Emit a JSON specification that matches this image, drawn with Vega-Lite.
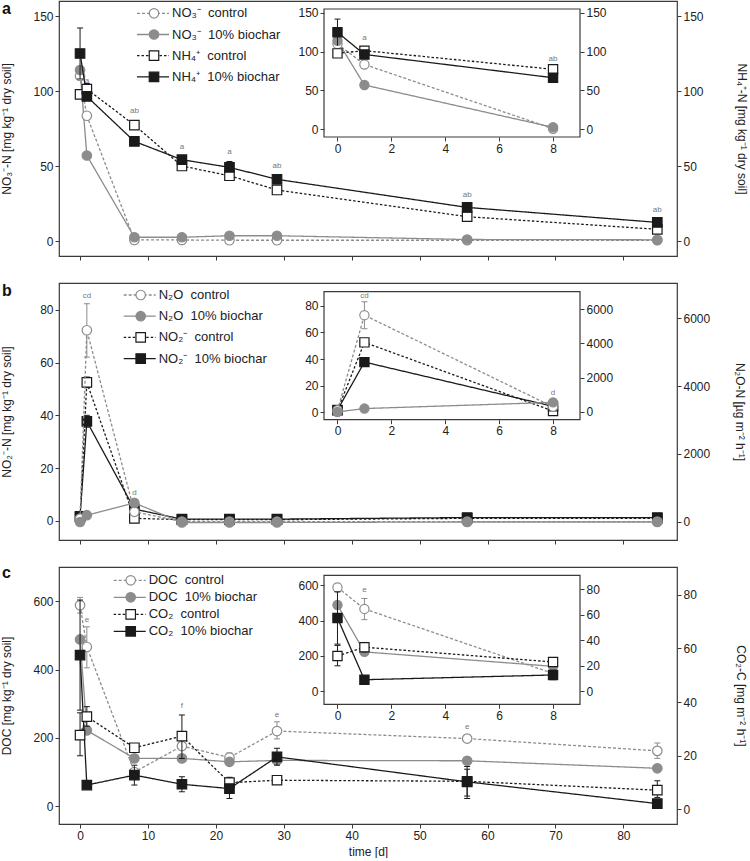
{
"$schema":"https://vega.github.io/schema/vega-lite/v6.json",
"background":"white",
"padding":{"left":0,"top":0,"right":0,"bottom":0},
"spacing":27,
"bounds":"flush",
"config":{"font":"Liberation Sans","view":{"stroke":"#3a3a3a","strokeWidth":1.2},
"legend":{"labelFont":"Liberation Sans"},
"axis":{"grid":false,"domain":false,"tickColor":"#3a3a3a","tickSize":4,"tickWidth":1,"labelFont":"Liberation Sans","labelFontSize":12,"labelColor":"#222","labelPadding":2,"titleFont":"Liberation Sans","titleFontSize":12,"titleFontWeight":"normal","titleColor":"#222"}},
"resolve":{"scale":{"stroke":"independent","strokeDash":"independent","shape":"independent","fill":"independent","color":"independent"},"legend":{"stroke":"independent","strokeDash":"independent","shape":"independent","fill":"independent","color":"independent"}},
"datasets":{
"a_pts":[
{"s":"NO₃⁻\u00a0 control","t":0,"v":110},{"s":"NO₃⁻\u00a0 control","t":1,"v":83.5},{"s":"NO₃⁻\u00a0 control","t":8,"v":0.7},{"s":"NO₃⁻\u00a0 control","t":15,"v":0.7},{"s":"NO₃⁻\u00a0 control","t":22,"v":0.5},{"s":"NO₃⁻\u00a0 control","t":29,"v":0.5},{"s":"NO₃⁻\u00a0 control","t":57,"v":0.5},{"s":"NO₃⁻\u00a0 control","t":85,"v":0.5},
{"s":"NO₃⁻\u00a0 10% biochar","t":0,"v":114},{"s":"NO₃⁻\u00a0 10% biochar","t":1,"v":57},{"s":"NO₃⁻\u00a0 10% biochar","t":8,"v":2.5},{"s":"NO₃⁻\u00a0 10% biochar","t":15,"v":2.5},{"s":"NO₃⁻\u00a0 10% biochar","t":22,"v":3.5},{"s":"NO₃⁻\u00a0 10% biochar","t":29,"v":3.5},{"s":"NO₃⁻\u00a0 10% biochar","t":57,"v":1.0},{"s":"NO₃⁻\u00a0 10% biochar","t":85,"v":0.8},
{"s":"NH₄⁺\u00a0 control","t":0,"v":97.8},{"s":"NH₄⁺\u00a0 control","t":1,"v":101.3},{"s":"NH₄⁺\u00a0 control","t":8,"v":77.3},{"s":"NH₄⁺\u00a0 control","t":15,"v":50},{"s":"NH₄⁺\u00a0 control","t":22,"v":43.5},{"s":"NH₄⁺\u00a0 control","t":29,"v":34},{"s":"NH₄⁺\u00a0 control","t":57,"v":16.2},{"s":"NH₄⁺\u00a0 control","t":85,"v":7.8},
{"s":"NH₄⁺\u00a0 10% biochar","t":0,"v":125},{"s":"NH₄⁺\u00a0 10% biochar","t":1,"v":96.4},{"s":"NH₄⁺\u00a0 10% biochar","t":8,"v":66.4},{"s":"NH₄⁺\u00a0 10% biochar","t":15,"v":54.2},{"s":"NH₄⁺\u00a0 10% biochar","t":22,"v":49.1},{"s":"NH₄⁺\u00a0 10% biochar","t":29,"v":41.1},{"s":"NH₄⁺\u00a0 10% biochar","t":57,"v":22.4},{"s":"NH₄⁺\u00a0 10% biochar","t":85,"v":12.4}],
"a_err":[{"s":"NH₄⁺\u00a0 10% biochar","t":0,"lo":108,"hi":142},{"s":"NH₄⁺\u00a0 10% biochar","t":22,"lo":45,"hi":53},{"s":"NH₄⁺\u00a0 control","t":1,"lo":97,"hi":105}],
"a_lab":[{"t":1,"v":107,"lab":"a"},{"t":8,"v":87,"lab":"ab"},{"t":15,"v":63,"lab":"a"},{"t":22,"v":59.5,"lab":"a"},{"t":29,"v":50,"lab":"ab"},{"t":57,"v":31,"lab":"ab"},{"t":85,"v":21,"lab":"ab"}],
"a_ilab":[{"t":1,"v":117.7,"lab":"a"},{"t":8,"v":90.6,"lab":"ab"}],
"b_pts":[
{"s":"N₂O\u00a0 control","t":0,"v":100},{"s":"N₂O\u00a0 control","t":1,"v":5640},{"s":"N₂O\u00a0 control","t":8,"v":300},{"s":"N₂O\u00a0 control","t":15,"v":10},{"s":"N₂O\u00a0 control","t":22,"v":10},{"s":"N₂O\u00a0 control","t":29,"v":10},{"s":"N₂O\u00a0 control","t":57,"v":10},{"s":"N₂O\u00a0 control","t":85,"v":10},
{"s":"N₂O\u00a0 10% biochar","t":0,"v":0},{"s":"N₂O\u00a0 10% biochar","t":1,"v":200},{"s":"N₂O\u00a0 10% biochar","t":8,"v":560},{"s":"N₂O\u00a0 10% biochar","t":15,"v":-15},{"s":"N₂O\u00a0 10% biochar","t":22,"v":-15},{"s":"N₂O\u00a0 10% biochar","t":29,"v":-15},{"s":"N₂O\u00a0 10% biochar","t":57,"v":0},{"s":"N₂O\u00a0 10% biochar","t":85,"v":0},
{"s":"NO₂⁻\u00a0 control","t":0,"v":1.5},{"s":"NO₂⁻\u00a0 control","t":1,"v":52.5},{"s":"NO₂⁻\u00a0 control","t":8,"v":1.0},{"s":"NO₂⁻\u00a0 control","t":15,"v":0.5},{"s":"NO₂⁻\u00a0 control","t":22,"v":0.5},{"s":"NO₂⁻\u00a0 control","t":29,"v":0.5},{"s":"NO₂⁻\u00a0 control","t":57,"v":1.0},{"s":"NO₂⁻\u00a0 control","t":85,"v":1.0},
{"s":"NO₂⁻\u00a0 10% biochar","t":0,"v":1.8},{"s":"NO₂⁻\u00a0 10% biochar","t":1,"v":37.7},{"s":"NO₂⁻\u00a0 10% biochar","t":8,"v":4.5},{"s":"NO₂⁻\u00a0 10% biochar","t":15,"v":0.7},{"s":"NO₂⁻\u00a0 10% biochar","t":22,"v":0.7},{"s":"NO₂⁻\u00a0 10% biochar","t":29,"v":0.7},{"s":"NO₂⁻\u00a0 10% biochar","t":57,"v":1.3},{"s":"NO₂⁻\u00a0 10% biochar","t":85,"v":1.3}],
"b_err":[{"s":"N₂O\u00a0 control","t":1,"lo":4850,"hi":6420},{"s":"NO₂⁻\u00a0 control","t":1,"lo":50.5,"hi":54.5},{"s":"NO₂⁻\u00a0 10% biochar","t":1,"lo":35.5,"hi":40}],
"b_lab":[{"t":1,"v":85.3,"lab":"cd"},{"t":8,"v":10.6,"lab":"d"}],
"b_ilab":[{"t":1,"v":87,"lab":"cd"},{"t":8,"v":14.5,"lab":"d"}],
"c_pts":[
{"s":"DOC\u00a0 control","t":0,"v":588},{"s":"DOC\u00a0 control","t":1,"v":466},{"s":"DOC\u00a0 control","t":8,"v":100},{"s":"DOC\u00a0 control","t":15,"v":176},{"s":"DOC\u00a0 control","t":22,"v":142.5},{"s":"DOC\u00a0 control","t":29,"v":220},{"s":"DOC\u00a0 control","t":57,"v":198},{"s":"DOC\u00a0 control","t":85,"v":162},
{"s":"DOC\u00a0 10% biochar","t":0,"v":488},{"s":"DOC\u00a0 10% biochar","t":1,"v":222},{"s":"DOC\u00a0 10% biochar","t":8,"v":140},{"s":"DOC\u00a0 10% biochar","t":15,"v":140},{"s":"DOC\u00a0 10% biochar","t":22,"v":130},{"s":"DOC\u00a0 10% biochar","t":29,"v":134},{"s":"DOC\u00a0 10% biochar","t":57,"v":133},{"s":"DOC\u00a0 10% biochar","t":85,"v":111},
{"s":"CO₂\u00a0 control","t":0,"v":27.7},{"s":"CO₂\u00a0 control","t":1,"v":34.6},{"s":"CO₂\u00a0 control","t":8,"v":23},{"s":"CO₂\u00a0 control","t":15,"v":27.3},{"s":"CO₂\u00a0 control","t":22,"v":10},{"s":"CO₂\u00a0 control","t":29,"v":10.9},{"s":"CO₂\u00a0 control","t":57,"v":10.5},{"s":"CO₂\u00a0 control","t":85,"v":7.2},
{"s":"CO₂\u00a0 10% biochar","t":0,"v":57.5},{"s":"CO₂\u00a0 10% biochar","t":1,"v":9.1},{"s":"CO₂\u00a0 10% biochar","t":8,"v":12.8},{"s":"CO₂\u00a0 10% biochar","t":15,"v":9.4},{"s":"CO₂\u00a0 10% biochar","t":22,"v":7.8},{"s":"CO₂\u00a0 10% biochar","t":29,"v":19.6},{"s":"CO₂\u00a0 10% biochar","t":57,"v":10.3},{"s":"CO₂\u00a0 10% biochar","t":85,"v":2.2}],
"c_err":[{"s":"DOC\u00a0 control","t":0,"lo":565,"hi":611},{"s":"DOC\u00a0 control","t":1,"lo":405,"hi":525},{"s":"DOC\u00a0 control","t":22,"lo":129,"hi":156},{"s":"DOC\u00a0 control","t":29,"lo":197,"hi":247},{"s":"DOC\u00a0 control","t":85,"lo":140,"hi":185},
{"s":"CO₂\u00a0 control","t":0,"lo":20,"hi":36},{"s":"CO₂\u00a0 control","t":1,"lo":31,"hi":38.3},{"s":"CO₂\u00a0 control","t":15,"lo":19,"hi":35.2},{"s":"CO₂\u00a0 control","t":22,"lo":8,"hi":12},{"s":"CO₂\u00a0 control","t":57,"lo":5,"hi":15},{"s":"CO₂\u00a0 control","t":85,"lo":4.5,"hi":10.7},
{"s":"CO₂\u00a0 10% biochar","t":0,"lo":37,"hi":78},{"s":"CO₂\u00a0 10% biochar","t":8,"lo":9.1,"hi":16.5},{"s":"CO₂\u00a0 10% biochar","t":15,"lo":6.6,"hi":12.2},{"s":"CO₂\u00a0 10% biochar","t":22,"lo":4.1,"hi":11.6},{"s":"CO₂\u00a0 10% biochar","t":29,"lo":16.5,"hi":22.8},{"s":"CO₂\u00a0 10% biochar","t":57,"lo":4.1,"hi":16},{"s":"CO₂\u00a0 10% biochar","t":85,"lo":1,"hi":3.5}],
"c_lab":[{"t":1,"v":546,"lab":"e"},{"t":15,"v":293,"lab":"f"},{"t":29,"v":266,"lab":"e"},{"t":57,"v":232,"lab":"e"}],
"c_ilab":[{"t":1,"v":576,"lab":"e"}]
},
"vconcat":[
{"width":618,"height":255,"resolve":{"scale":{"x":"independent","y":"independent"}},
"layer":[
{"layer":[
{"data":{"name":"a_pts"},"transform":[{"filter":"indexof(datum.s,'NO₃')>=0"}],"mark":{"type":"line","strokeWidth":1.3},
"encoding":{"x":{"field":"t","type":"quantitative","scale":{"domain":[-3.1,87.9],"nice":false,"zero":false},"axis":{"orient":"bottom","values":[0,10,20,30,40,50,60,70,80],"labels":false,"title":null}},
"y":{"field":"v","type":"quantitative","scale":{"domain":[-10,160],"nice":false,"zero":false},"axis":{"orient":"left","values":[0,50,100,150],"title":"NO₃⁻-N [mg kg⁻¹ dry soil]","titlePadding":19}},
"stroke":{"field":"s","type":"nominal","scale":{"domain":["NO₃⁻\u00a0 control","NO₃⁻\u00a0 10% biochar","NH₄⁺\u00a0 control","NH₄⁺\u00a0 10% biochar"],"range":["#8c8c8c","#8c8c8c","#1a1a1a","#1a1a1a"]},"legend":{"orient":"none","legendX":77,"legendY":5.8,"title":null,"values":["NO₃⁻\u00a0 control","NO₃⁻\u00a0 10% biochar","NH₄⁺\u00a0 control","NH₄⁺\u00a0 10% biochar"],"symbolType":"stroke","symbolSize":1024,"symbolStrokeWidth":1.3,"labelFontSize":13,"labelColor":"#222","labelOffset":2,"rowPadding":7.2,"padding":0,"clipHeight":13}},
"strokeDash":{"field":"s","type":"nominal","scale":{"domain":["NO₃⁻\u00a0 control","NO₃⁻\u00a0 10% biochar","NH₄⁺\u00a0 control","NH₄⁺\u00a0 10% biochar"],"range":[[3,2],[1,0],[2.5,2],[1,0]]},"legend":{"orient":"none","legendX":77,"legendY":5.8,"title":null,"values":["NO₃⁻\u00a0 control","NO₃⁻\u00a0 10% biochar","NH₄⁺\u00a0 control","NH₄⁺\u00a0 10% biochar"],"symbolType":"stroke","symbolSize":1024,"symbolStrokeWidth":1.3,"labelFontSize":13,"labelColor":"#222","labelOffset":2,"rowPadding":7.2,"padding":0,"clipHeight":13}}}},
{"data":{"name":"a_pts"},"transform":[{"filter":"indexof(datum.s,'NO₃')>=0"}],"mark":{"type":"point","filled":false,"size":90,"strokeWidth":1.2,"opacity":1},
"encoding":{"x":{"field":"t","type":"quantitative","scale":{"domain":[-3.1,87.9],"nice":false,"zero":false},"axis":{"orient":"bottom","values":[0,10,20,30,40,50,60,70,80],"labels":false,"title":null}},
"y":{"field":"v","type":"quantitative","scale":{"domain":[-10,160],"nice":false,"zero":false},"axis":{"orient":"left","values":[0,50,100,150],"title":"NO₃⁻-N [mg kg⁻¹ dry soil]","titlePadding":19}},
"color":{"field":"s","type":"nominal","scale":{"domain":["NH₄⁺\u00a0 10% biochar","NH₄⁺\u00a0 control","NO₃⁻\u00a0 10% biochar","NO₃⁻\u00a0 control"],"range":["#1a1a1a","#1a1a1a","#8c8c8c","#8c8c8c"]},"legend":{"orient":"none","legendX":88.5,"legendY":5.8,"title":null,"values":["NO₃⁻\u00a0 control","NO₃⁻\u00a0 10% biochar","NH₄⁺\u00a0 control","NH₄⁺\u00a0 10% biochar"],"symbolSize":90,"symbolStrokeWidth":1.2,"labelFontSize":13,"labelExpr":"''","labelOffset":2,"rowPadding":7.2,"padding":0,"clipHeight":13}},
"fill":{"field":"s","type":"nominal","scale":{"domain":["NH₄⁺\u00a0 10% biochar","NH₄⁺\u00a0 control","NO₃⁻\u00a0 10% biochar","NO₃⁻\u00a0 control"],"range":["#1a1a1a","#ffffff","#8c8c8c","#ffffff"]},"legend":{"orient":"none","legendX":88.5,"legendY":5.8,"title":null,"values":["NO₃⁻\u00a0 control","NO₃⁻\u00a0 10% biochar","NH₄⁺\u00a0 control","NH₄⁺\u00a0 10% biochar"],"symbolSize":90,"symbolStrokeWidth":1.2,"labelFontSize":13,"labelExpr":"''","labelOffset":2,"rowPadding":7.2,"padding":0,"clipHeight":13}},
"shape":{"field":"s","type":"nominal","scale":{"domain":["NH₄⁺\u00a0 10% biochar","NH₄⁺\u00a0 control","NO₃⁻\u00a0 10% biochar","NO₃⁻\u00a0 control"],"range":["square","square","circle","circle"]},"legend":{"orient":"none","legendX":88.5,"legendY":5.8,"title":null,"values":["NO₃⁻\u00a0 control","NO₃⁻\u00a0 10% biochar","NH₄⁺\u00a0 control","NH₄⁺\u00a0 10% biochar"],"symbolSize":90,"symbolStrokeWidth":1.2,"labelFontSize":13,"labelExpr":"''","labelOffset":2,"rowPadding":7.2,"padding":0,"clipHeight":13}}}},
{"data":{"name":"a_lab"},"mark":{"type":"text","fontSize":8,"color":"#777"},
"encoding":{"x":{"field":"t","type":"quantitative","scale":{"domain":[-3.1,87.9],"nice":false,"zero":false},"axis":{"orient":"bottom","values":[0,10,20,30,40,50,60,70,80],"labels":false,"title":null}},
"y":{"field":"v","type":"quantitative","scale":{"domain":[-10,160],"nice":false,"zero":false},"axis":{"orient":"left","values":[0,50,100,150],"title":"NO₃⁻-N [mg kg⁻¹ dry soil]","titlePadding":19}},"text":{"field":"lab"}}},
{"data":{"values":[{}]},"mark":{"type":"text","fontSize":16,"fontWeight":"bold","color":"#111","align":"left","baseline":"alphabetic"},
"encoding":{"x":{"datum":-11.5,"type":"quantitative","scale":{"domain":[-3.1,87.9],"nice":false,"zero":false},"axis":{"orient":"bottom","values":[0,10,20,30,40,50,60,70,80],"labels":false,"title":null}},
"y":{"datum":151.3,"type":"quantitative","scale":{"domain":[-10,160],"nice":false,"zero":false},"axis":{"orient":"left","values":[0,50,100,150],"title":"NO₃⁻-N [mg kg⁻¹ dry soil]","titlePadding":19}},"text":{"value":"a"}}}
]},
{"layer":[
{"data":{"name":"a_pts"},"transform":[{"filter":"indexof(datum.s,'NH₄')>=0"}],"mark":{"type":"line","strokeWidth":1.3},
"encoding":{"x":{"field":"t","type":"quantitative","scale":{"domain":[-3.1,87.9],"nice":false,"zero":false},"axis":null},
"y":{"field":"v","type":"quantitative","scale":{"domain":[-10,160],"nice":false,"zero":false},"axis":{"orient":"right","values":[0,50,100,150],"title":"NH₄⁺-N [mg kg⁻¹ dry soil]","titlePadding":31}},
"stroke":{"field":"s","type":"nominal","scale":{"domain":["NO₃⁻\u00a0 control","NO₃⁻\u00a0 10% biochar","NH₄⁺\u00a0 control","NH₄⁺\u00a0 10% biochar"],"range":["#8c8c8c","#8c8c8c","#1a1a1a","#1a1a1a"]},"legend":null},
"strokeDash":{"field":"s","type":"nominal","scale":{"domain":["NO₃⁻\u00a0 control","NO₃⁻\u00a0 10% biochar","NH₄⁺\u00a0 control","NH₄⁺\u00a0 10% biochar"],"range":[[3,2],[1,0],[2.5,2],[1,0]]},"legend":null}}},
{"data":{"name":"a_err"},"transform":[{"filter":"indexof(datum.s,'NH₄')>=0"}],"mark":{"type":"rule","strokeWidth":1},
"encoding":{"x":{"field":"t","type":"quantitative","scale":{"domain":[-3.1,87.9],"nice":false,"zero":false},"axis":null},
"y":{"field":"lo","type":"quantitative","scale":{"domain":[-10,160],"nice":false,"zero":false},"axis":{"orient":"right","values":[0,50,100,150],"title":"NH₄⁺-N [mg kg⁻¹ dry soil]","titlePadding":31}},"y2":{"field":"hi"},
"stroke":{"field":"s","type":"nominal","scale":{"domain":["NO₃⁻\u00a0 control","NO₃⁻\u00a0 10% biochar","NH₄⁺\u00a0 control","NH₄⁺\u00a0 10% biochar"],"range":["#8c8c8c","#8c8c8c","#1a1a1a","#1a1a1a"]},"legend":null}}},
{"data":{"name":"a_err"},"transform":[{"filter":"indexof(datum.s,'NH₄')>=0"}],"mark":{"type":"point","shape":"stroke","size":36,"strokeWidth":1,"opacity":1},
"encoding":{"x":{"field":"t","type":"quantitative","scale":{"domain":[-3.1,87.9],"nice":false,"zero":false},"axis":null},
"y":{"field":"hi","type":"quantitative","scale":{"domain":[-10,160],"nice":false,"zero":false},"axis":{"orient":"right","values":[0,50,100,150],"title":"NH₄⁺-N [mg kg⁻¹ dry soil]","titlePadding":31}},
"stroke":{"field":"s","type":"nominal","scale":{"domain":["NO₃⁻\u00a0 control","NO₃⁻\u00a0 10% biochar","NH₄⁺\u00a0 control","NH₄⁺\u00a0 10% biochar"],"range":["#8c8c8c","#8c8c8c","#1a1a1a","#1a1a1a"]},"legend":null}}},
{"data":{"name":"a_err"},"transform":[{"filter":"indexof(datum.s,'NH₄')>=0"}],"mark":{"type":"point","shape":"stroke","size":36,"strokeWidth":1,"opacity":1},
"encoding":{"x":{"field":"t","type":"quantitative","scale":{"domain":[-3.1,87.9],"nice":false,"zero":false},"axis":null},
"y":{"field":"lo","type":"quantitative","scale":{"domain":[-10,160],"nice":false,"zero":false},"axis":{"orient":"right","values":[0,50,100,150],"title":"NH₄⁺-N [mg kg⁻¹ dry soil]","titlePadding":31}},
"stroke":{"field":"s","type":"nominal","scale":{"domain":["NO₃⁻\u00a0 control","NO₃⁻\u00a0 10% biochar","NH₄⁺\u00a0 control","NH₄⁺\u00a0 10% biochar"],"range":["#8c8c8c","#8c8c8c","#1a1a1a","#1a1a1a"]},"legend":null}}},
{"data":{"name":"a_pts"},"transform":[{"filter":"indexof(datum.s,'NH₄')>=0"}],"mark":{"type":"point","filled":false,"size":90,"strokeWidth":1.2,"opacity":1},
"encoding":{"x":{"field":"t","type":"quantitative","scale":{"domain":[-3.1,87.9],"nice":false,"zero":false},"axis":null},
"y":{"field":"v","type":"quantitative","scale":{"domain":[-10,160],"nice":false,"zero":false},"axis":{"orient":"right","values":[0,50,100,150],"title":"NH₄⁺-N [mg kg⁻¹ dry soil]","titlePadding":31}},
"color":{"field":"s","type":"nominal","scale":{"domain":["NH₄⁺\u00a0 10% biochar","NH₄⁺\u00a0 control","NO₃⁻\u00a0 10% biochar","NO₃⁻\u00a0 control"],"range":["#1a1a1a","#1a1a1a","#8c8c8c","#8c8c8c"]},"legend":null},
"fill":{"field":"s","type":"nominal","scale":{"domain":["NH₄⁺\u00a0 10% biochar","NH₄⁺\u00a0 control","NO₃⁻\u00a0 10% biochar","NO₃⁻\u00a0 control"],"range":["#1a1a1a","#ffffff","#8c8c8c","#ffffff"]},"legend":null},
"shape":{"field":"s","type":"nominal","scale":{"domain":["NH₄⁺\u00a0 10% biochar","NH₄⁺\u00a0 control","NO₃⁻\u00a0 10% biochar","NO₃⁻\u00a0 control"],"range":["square","square","circle","circle"]},"legend":null}}}
]},
{"layer":[
{"data":{"values":[{}]},"mark":{"type":"rect","filled":false,"color":"#3a3a3a","strokeWidth":1.2},
"encoding":{"x":{"datum":-0.5,"type":"quantitative","scale":{"domain":[-0.5,9],"range":[265,521],"nice":false,"zero":false},"axis":{"orient":"bottom","offset":-119,"values":[0,2,4,6,8],"title":null}},"x2":{"datum":9},
"y":{"datum":-10,"type":"quantitative","scale":{"domain":[-10,155],"range":[136,8],"nice":false,"zero":false},"axis":{"orient":"left","offset":-265,"values":[0,50,100,150],"title":null}},"y2":{"datum":155}}},
{"data":{"name":"a_pts"},"transform":[{"filter":"indexof(datum.s,'NO₃')>=0 && datum.t<=8"}],"mark":{"type":"line","strokeWidth":1.3},
"encoding":{"x":{"field":"t","type":"quantitative","scale":{"domain":[-0.5,9],"range":[265,521],"nice":false,"zero":false},"axis":{"orient":"bottom","offset":-119,"values":[0,2,4,6,8],"title":null}},
"y":{"field":"v","type":"quantitative","scale":{"domain":[-10,155],"range":[136,8],"nice":false,"zero":false},"axis":{"orient":"left","offset":-265,"values":[0,50,100,150],"title":null}},
"stroke":{"field":"s","type":"nominal","scale":{"domain":["NO₃⁻\u00a0 control","NO₃⁻\u00a0 10% biochar","NH₄⁺\u00a0 control","NH₄⁺\u00a0 10% biochar"],"range":["#8c8c8c","#8c8c8c","#1a1a1a","#1a1a1a"]},"legend":null},
"strokeDash":{"field":"s","type":"nominal","scale":{"domain":["NO₃⁻\u00a0 control","NO₃⁻\u00a0 10% biochar","NH₄⁺\u00a0 control","NH₄⁺\u00a0 10% biochar"],"range":[[3,2],[1,0],[2.5,2],[1,0]]},"legend":null}}},
{"data":{"name":"a_pts"},"transform":[{"filter":"indexof(datum.s,'NO₃')>=0 && datum.t<=8"}],"mark":{"type":"point","filled":false,"size":85,"strokeWidth":1.2,"opacity":1},
"encoding":{"x":{"field":"t","type":"quantitative","scale":{"domain":[-0.5,9],"range":[265,521],"nice":false,"zero":false},"axis":{"orient":"bottom","offset":-119,"values":[0,2,4,6,8],"title":null}},
"y":{"field":"v","type":"quantitative","scale":{"domain":[-10,155],"range":[136,8],"nice":false,"zero":false},"axis":{"orient":"left","offset":-265,"values":[0,50,100,150],"title":null}},
"color":{"field":"s","type":"nominal","scale":{"domain":["NH₄⁺\u00a0 10% biochar","NH₄⁺\u00a0 control","NO₃⁻\u00a0 10% biochar","NO₃⁻\u00a0 control"],"range":["#1a1a1a","#1a1a1a","#8c8c8c","#8c8c8c"]},"legend":null},
"fill":{"field":"s","type":"nominal","scale":{"domain":["NH₄⁺\u00a0 10% biochar","NH₄⁺\u00a0 control","NO₃⁻\u00a0 10% biochar","NO₃⁻\u00a0 control"],"range":["#1a1a1a","#ffffff","#8c8c8c","#ffffff"]},"legend":null},
"shape":{"field":"s","type":"nominal","scale":{"domain":["NH₄⁺\u00a0 10% biochar","NH₄⁺\u00a0 control","NO₃⁻\u00a0 10% biochar","NO₃⁻\u00a0 control"],"range":["square","square","circle","circle"]},"legend":null}}},
{"data":{"name":"a_ilab"},"mark":{"type":"text","fontSize":8,"color":"#777"},
"encoding":{"x":{"field":"t","type":"quantitative","scale":{"domain":[-0.5,9],"range":[265,521],"nice":false,"zero":false},"axis":{"orient":"bottom","offset":-119,"values":[0,2,4,6,8],"title":null}},
"y":{"field":"v","type":"quantitative","scale":{"domain":[-10,155],"range":[136,8],"nice":false,"zero":false},"axis":{"orient":"left","offset":-265,"values":[0,50,100,150],"title":null}},"text":{"field":"lab"}}}
]},
{"layer":[
{"data":{"name":"a_pts"},"transform":[{"filter":"indexof(datum.s,'NH₄')>=0 && datum.t<=8"}],"mark":{"type":"line","strokeWidth":1.3},
"encoding":{"x":{"field":"t","type":"quantitative","scale":{"domain":[-0.5,9],"range":[265,521],"nice":false,"zero":false},"axis":null},
"y":{"field":"v","type":"quantitative","scale":{"domain":[-10,155],"range":[136,8],"nice":false,"zero":false},"axis":{"orient":"right","offset":-97,"values":[0,50,100,150],"title":null}},
"stroke":{"field":"s","type":"nominal","scale":{"domain":["NO₃⁻\u00a0 control","NO₃⁻\u00a0 10% biochar","NH₄⁺\u00a0 control","NH₄⁺\u00a0 10% biochar"],"range":["#8c8c8c","#8c8c8c","#1a1a1a","#1a1a1a"]},"legend":null},
"strokeDash":{"field":"s","type":"nominal","scale":{"domain":["NO₃⁻\u00a0 control","NO₃⁻\u00a0 10% biochar","NH₄⁺\u00a0 control","NH₄⁺\u00a0 10% biochar"],"range":[[3,2],[1,0],[2.5,2],[1,0]]},"legend":null}}},
{"data":{"name":"a_err"},"transform":[{"filter":"indexof(datum.s,'NH₄')>=0 && datum.t<=8"}],"mark":{"type":"rule","strokeWidth":1},
"encoding":{"x":{"field":"t","type":"quantitative","scale":{"domain":[-0.5,9],"range":[265,521],"nice":false,"zero":false},"axis":null},
"y":{"field":"lo","type":"quantitative","scale":{"domain":[-10,155],"range":[136,8],"nice":false,"zero":false},"axis":{"orient":"right","offset":-97,"values":[0,50,100,150],"title":null}},"y2":{"field":"hi"},
"stroke":{"field":"s","type":"nominal","scale":{"domain":["NO₃⁻\u00a0 control","NO₃⁻\u00a0 10% biochar","NH₄⁺\u00a0 control","NH₄⁺\u00a0 10% biochar"],"range":["#8c8c8c","#8c8c8c","#1a1a1a","#1a1a1a"]},"legend":null}}},
{"data":{"name":"a_err"},"transform":[{"filter":"indexof(datum.s,'NH₄')>=0 && datum.t<=8"}],"mark":{"type":"point","shape":"stroke","size":36,"strokeWidth":1,"opacity":1},
"encoding":{"x":{"field":"t","type":"quantitative","scale":{"domain":[-0.5,9],"range":[265,521],"nice":false,"zero":false},"axis":null},
"y":{"field":"hi","type":"quantitative","scale":{"domain":[-10,155],"range":[136,8],"nice":false,"zero":false},"axis":{"orient":"right","offset":-97,"values":[0,50,100,150],"title":null}},
"stroke":{"field":"s","type":"nominal","scale":{"domain":["NO₃⁻\u00a0 control","NO₃⁻\u00a0 10% biochar","NH₄⁺\u00a0 control","NH₄⁺\u00a0 10% biochar"],"range":["#8c8c8c","#8c8c8c","#1a1a1a","#1a1a1a"]},"legend":null}}},
{"data":{"name":"a_pts"},"transform":[{"filter":"indexof(datum.s,'NH₄')>=0 && datum.t<=8"}],"mark":{"type":"point","filled":false,"size":85,"strokeWidth":1.2,"opacity":1},
"encoding":{"x":{"field":"t","type":"quantitative","scale":{"domain":[-0.5,9],"range":[265,521],"nice":false,"zero":false},"axis":null},
"y":{"field":"v","type":"quantitative","scale":{"domain":[-10,155],"range":[136,8],"nice":false,"zero":false},"axis":{"orient":"right","offset":-97,"values":[0,50,100,150],"title":null}},
"color":{"field":"s","type":"nominal","scale":{"domain":["NH₄⁺\u00a0 10% biochar","NH₄⁺\u00a0 control","NO₃⁻\u00a0 10% biochar","NO₃⁻\u00a0 control"],"range":["#1a1a1a","#1a1a1a","#8c8c8c","#8c8c8c"]},"legend":null},
"fill":{"field":"s","type":"nominal","scale":{"domain":["NH₄⁺\u00a0 10% biochar","NH₄⁺\u00a0 control","NO₃⁻\u00a0 10% biochar","NO₃⁻\u00a0 control"],"range":["#1a1a1a","#ffffff","#8c8c8c","#ffffff"]},"legend":null},
"shape":{"field":"s","type":"nominal","scale":{"domain":["NH₄⁺\u00a0 10% biochar","NH₄⁺\u00a0 control","NO₃⁻\u00a0 10% biochar","NO₃⁻\u00a0 control"],"range":["square","square","circle","circle"]},"legend":null}}}
]}
]},
{"width":618,"height":257,"resolve":{"scale":{"x":"independent","y":"independent"}},
"layer":[
{"layer":[
{"data":{"name":"b_pts"},"transform":[{"filter":"indexof(datum.s,'NO₂')>=0"}],"mark":{"type":"line","strokeWidth":1.3},
"encoding":{"x":{"field":"t","type":"quantitative","scale":{"domain":[-3.1,87.9],"nice":false,"zero":false},"axis":{"orient":"bottom","values":[0,10,20,30,40,50,60,70,80],"labels":false,"title":null}},
"y":{"field":"v","type":"quantitative","scale":{"domain":[-7.2,90.1],"nice":false,"zero":false},"axis":{"orient":"left","values":[0,20,40,60,80],"title":"NO₂⁻-N [mg kg⁻¹ dry soil]","titlePadding":26}},
"stroke":{"field":"s","type":"nominal","scale":{"domain":["N₂O\u00a0 control","N₂O\u00a0 10% biochar","NO₂⁻\u00a0 control","NO₂⁻\u00a0 10% biochar"],"range":["#8c8c8c","#8c8c8c","#1a1a1a","#1a1a1a"]},"legend":{"orient":"none","legendX":63.7,"legendY":5.5,"title":null,"values":["N₂O\u00a0 control","N₂O\u00a0 10% biochar","NO₂⁻\u00a0 control","NO₂⁻\u00a0 10% biochar"],"symbolType":"stroke","symbolSize":1024,"symbolStrokeWidth":1.3,"labelFontSize":13,"labelColor":"#222","labelOffset":2,"rowPadding":7.2,"padding":0,"clipHeight":13}},
"strokeDash":{"field":"s","type":"nominal","scale":{"domain":["N₂O\u00a0 control","N₂O\u00a0 10% biochar","NO₂⁻\u00a0 control","NO₂⁻\u00a0 10% biochar"],"range":[[3,2],[1,0],[2.5,2],[1,0]]},"legend":{"orient":"none","legendX":63.7,"legendY":5.5,"title":null,"values":["N₂O\u00a0 control","N₂O\u00a0 10% biochar","NO₂⁻\u00a0 control","NO₂⁻\u00a0 10% biochar"],"symbolType":"stroke","symbolSize":1024,"symbolStrokeWidth":1.3,"labelFontSize":13,"labelColor":"#222","labelOffset":2,"rowPadding":7.2,"padding":0,"clipHeight":13}}}},
{"data":{"name":"b_err"},"transform":[{"filter":"indexof(datum.s,'NO₂')>=0"}],"mark":{"type":"rule","strokeWidth":1},
"encoding":{"x":{"field":"t","type":"quantitative","scale":{"domain":[-3.1,87.9],"nice":false,"zero":false},"axis":{"orient":"bottom","values":[0,10,20,30,40,50,60,70,80],"labels":false,"title":null}},
"y":{"field":"lo","type":"quantitative","scale":{"domain":[-7.2,90.1],"nice":false,"zero":false},"axis":{"orient":"left","values":[0,20,40,60,80],"title":"NO₂⁻-N [mg kg⁻¹ dry soil]","titlePadding":26}},"y2":{"field":"hi"},
"stroke":{"field":"s","type":"nominal","scale":{"domain":["N₂O\u00a0 control","N₂O\u00a0 10% biochar","NO₂⁻\u00a0 control","NO₂⁻\u00a0 10% biochar"],"range":["#8c8c8c","#8c8c8c","#1a1a1a","#1a1a1a"]},"legend":null}}},
{"data":{"name":"b_err"},"transform":[{"filter":"indexof(datum.s,'NO₂')>=0"}],"mark":{"type":"point","shape":"stroke","size":36,"strokeWidth":1,"opacity":1},
"encoding":{"x":{"field":"t","type":"quantitative","scale":{"domain":[-3.1,87.9],"nice":false,"zero":false},"axis":{"orient":"bottom","values":[0,10,20,30,40,50,60,70,80],"labels":false,"title":null}},
"y":{"field":"hi","type":"quantitative","scale":{"domain":[-7.2,90.1],"nice":false,"zero":false},"axis":{"orient":"left","values":[0,20,40,60,80],"title":"NO₂⁻-N [mg kg⁻¹ dry soil]","titlePadding":26}},
"stroke":{"field":"s","type":"nominal","scale":{"domain":["N₂O\u00a0 control","N₂O\u00a0 10% biochar","NO₂⁻\u00a0 control","NO₂⁻\u00a0 10% biochar"],"range":["#8c8c8c","#8c8c8c","#1a1a1a","#1a1a1a"]},"legend":null}}},
{"data":{"name":"b_err"},"transform":[{"filter":"indexof(datum.s,'NO₂')>=0"}],"mark":{"type":"point","shape":"stroke","size":36,"strokeWidth":1,"opacity":1},
"encoding":{"x":{"field":"t","type":"quantitative","scale":{"domain":[-3.1,87.9],"nice":false,"zero":false},"axis":{"orient":"bottom","values":[0,10,20,30,40,50,60,70,80],"labels":false,"title":null}},
"y":{"field":"lo","type":"quantitative","scale":{"domain":[-7.2,90.1],"nice":false,"zero":false},"axis":{"orient":"left","values":[0,20,40,60,80],"title":"NO₂⁻-N [mg kg⁻¹ dry soil]","titlePadding":26}},
"stroke":{"field":"s","type":"nominal","scale":{"domain":["N₂O\u00a0 control","N₂O\u00a0 10% biochar","NO₂⁻\u00a0 control","NO₂⁻\u00a0 10% biochar"],"range":["#8c8c8c","#8c8c8c","#1a1a1a","#1a1a1a"]},"legend":null}}},
{"data":{"name":"b_pts"},"transform":[{"filter":"indexof(datum.s,'NO₂')>=0"}],"mark":{"type":"point","filled":false,"size":90,"strokeWidth":1.2,"opacity":1},
"encoding":{"x":{"field":"t","type":"quantitative","scale":{"domain":[-3.1,87.9],"nice":false,"zero":false},"axis":{"orient":"bottom","values":[0,10,20,30,40,50,60,70,80],"labels":false,"title":null}},
"y":{"field":"v","type":"quantitative","scale":{"domain":[-7.2,90.1],"nice":false,"zero":false},"axis":{"orient":"left","values":[0,20,40,60,80],"title":"NO₂⁻-N [mg kg⁻¹ dry soil]","titlePadding":26}},
"color":{"field":"s","type":"nominal","scale":{"domain":["NO₂⁻\u00a0 10% biochar","NO₂⁻\u00a0 control","N₂O\u00a0 10% biochar","N₂O\u00a0 control"],"range":["#1a1a1a","#1a1a1a","#8c8c8c","#8c8c8c"]},"legend":{"orient":"none","legendX":75.2,"legendY":5.5,"title":null,"values":["N₂O\u00a0 control","N₂O\u00a0 10% biochar","NO₂⁻\u00a0 control","NO₂⁻\u00a0 10% biochar"],"symbolSize":90,"symbolStrokeWidth":1.2,"labelFontSize":13,"labelExpr":"''","labelOffset":2,"rowPadding":7.2,"padding":0,"clipHeight":13}},
"fill":{"field":"s","type":"nominal","scale":{"domain":["NO₂⁻\u00a0 10% biochar","NO₂⁻\u00a0 control","N₂O\u00a0 10% biochar","N₂O\u00a0 control"],"range":["#1a1a1a","#ffffff","#8c8c8c","#ffffff"]},"legend":{"orient":"none","legendX":75.2,"legendY":5.5,"title":null,"values":["N₂O\u00a0 control","N₂O\u00a0 10% biochar","NO₂⁻\u00a0 control","NO₂⁻\u00a0 10% biochar"],"symbolSize":90,"symbolStrokeWidth":1.2,"labelFontSize":13,"labelExpr":"''","labelOffset":2,"rowPadding":7.2,"padding":0,"clipHeight":13}},
"shape":{"field":"s","type":"nominal","scale":{"domain":["NO₂⁻\u00a0 10% biochar","NO₂⁻\u00a0 control","N₂O\u00a0 10% biochar","N₂O\u00a0 control"],"range":["square","square","circle","circle"]},"legend":{"orient":"none","legendX":75.2,"legendY":5.5,"title":null,"values":["N₂O\u00a0 control","N₂O\u00a0 10% biochar","NO₂⁻\u00a0 control","NO₂⁻\u00a0 10% biochar"],"symbolSize":90,"symbolStrokeWidth":1.2,"labelFontSize":13,"labelExpr":"''","labelOffset":2,"rowPadding":7.2,"padding":0,"clipHeight":13}}}},
{"data":{"name":"b_lab"},"mark":{"type":"text","fontSize":8,"color":"#777"},
"encoding":{"x":{"field":"t","type":"quantitative","scale":{"domain":[-3.1,87.9],"nice":false,"zero":false},"axis":{"orient":"bottom","values":[0,10,20,30,40,50,60,70,80],"labels":false,"title":null}},
"y":{"field":"v","type":"quantitative","scale":{"domain":[-7.2,90.1],"nice":false,"zero":false},"axis":{"orient":"left","values":[0,20,40,60,80],"title":"NO₂⁻-N [mg kg⁻¹ dry soil]","titlePadding":26}},"text":{"field":"lab"}}},
{"data":{"values":[{}]},"mark":{"type":"text","fontSize":16,"fontWeight":"bold","color":"#111","align":"left","baseline":"alphabetic"},
"encoding":{"x":{"datum":-11.5,"type":"quantitative","scale":{"domain":[-3.1,87.9],"nice":false,"zero":false},"axis":{"orient":"bottom","values":[0,10,20,30,40,50,60,70,80],"labels":false,"title":null}},
"y":{"datum":85,"type":"quantitative","scale":{"domain":[-7.2,90.1],"nice":false,"zero":false},"axis":{"orient":"left","values":[0,20,40,60,80],"title":"NO₂⁻-N [mg kg⁻¹ dry soil]","titlePadding":26}},"text":{"value":"b"}}}
]},
{"layer":[
{"data":{"name":"b_pts"},"transform":[{"filter":"indexof(datum.s,'N₂O')>=0"}],"mark":{"type":"line","strokeWidth":1.3},
"encoding":{"x":{"field":"t","type":"quantitative","scale":{"domain":[-3.1,87.9],"nice":false,"zero":false},"axis":null},
"y":{"field":"v","type":"quantitative","scale":{"domain":[-530,7030],"nice":false,"zero":false},"axis":{"orient":"right","values":[0,2000,4000,6000],"format":"d","title":"N₂O-N [µg m⁻² h⁻¹]","titlePadding":23}},
"stroke":{"field":"s","type":"nominal","scale":{"domain":["N₂O\u00a0 control","N₂O\u00a0 10% biochar","NO₂⁻\u00a0 control","NO₂⁻\u00a0 10% biochar"],"range":["#8c8c8c","#8c8c8c","#1a1a1a","#1a1a1a"]},"legend":null},
"strokeDash":{"field":"s","type":"nominal","scale":{"domain":["N₂O\u00a0 control","N₂O\u00a0 10% biochar","NO₂⁻\u00a0 control","NO₂⁻\u00a0 10% biochar"],"range":[[3,2],[1,0],[2.5,2],[1,0]]},"legend":null}}},
{"data":{"name":"b_err"},"transform":[{"filter":"indexof(datum.s,'N₂O')>=0"}],"mark":{"type":"rule","strokeWidth":1},
"encoding":{"x":{"field":"t","type":"quantitative","scale":{"domain":[-3.1,87.9],"nice":false,"zero":false},"axis":null},
"y":{"field":"lo","type":"quantitative","scale":{"domain":[-530,7030],"nice":false,"zero":false},"axis":{"orient":"right","values":[0,2000,4000,6000],"format":"d","title":"N₂O-N [µg m⁻² h⁻¹]","titlePadding":23}},"y2":{"field":"hi"},
"stroke":{"field":"s","type":"nominal","scale":{"domain":["N₂O\u00a0 control","N₂O\u00a0 10% biochar","NO₂⁻\u00a0 control","NO₂⁻\u00a0 10% biochar"],"range":["#8c8c8c","#8c8c8c","#1a1a1a","#1a1a1a"]},"legend":null}}},
{"data":{"name":"b_err"},"transform":[{"filter":"indexof(datum.s,'N₂O')>=0"}],"mark":{"type":"point","shape":"stroke","size":36,"strokeWidth":1,"opacity":1},
"encoding":{"x":{"field":"t","type":"quantitative","scale":{"domain":[-3.1,87.9],"nice":false,"zero":false},"axis":null},
"y":{"field":"hi","type":"quantitative","scale":{"domain":[-530,7030],"nice":false,"zero":false},"axis":{"orient":"right","values":[0,2000,4000,6000],"format":"d","title":"N₂O-N [µg m⁻² h⁻¹]","titlePadding":23}},
"stroke":{"field":"s","type":"nominal","scale":{"domain":["N₂O\u00a0 control","N₂O\u00a0 10% biochar","NO₂⁻\u00a0 control","NO₂⁻\u00a0 10% biochar"],"range":["#8c8c8c","#8c8c8c","#1a1a1a","#1a1a1a"]},"legend":null}}},
{"data":{"name":"b_err"},"transform":[{"filter":"indexof(datum.s,'N₂O')>=0"}],"mark":{"type":"point","shape":"stroke","size":36,"strokeWidth":1,"opacity":1},
"encoding":{"x":{"field":"t","type":"quantitative","scale":{"domain":[-3.1,87.9],"nice":false,"zero":false},"axis":null},
"y":{"field":"lo","type":"quantitative","scale":{"domain":[-530,7030],"nice":false,"zero":false},"axis":{"orient":"right","values":[0,2000,4000,6000],"format":"d","title":"N₂O-N [µg m⁻² h⁻¹]","titlePadding":23}},
"stroke":{"field":"s","type":"nominal","scale":{"domain":["N₂O\u00a0 control","N₂O\u00a0 10% biochar","NO₂⁻\u00a0 control","NO₂⁻\u00a0 10% biochar"],"range":["#8c8c8c","#8c8c8c","#1a1a1a","#1a1a1a"]},"legend":null}}},
{"data":{"name":"b_pts"},"transform":[{"filter":"indexof(datum.s,'N₂O')>=0"}],"mark":{"type":"point","filled":false,"size":90,"strokeWidth":1.2,"opacity":1},
"encoding":{"x":{"field":"t","type":"quantitative","scale":{"domain":[-3.1,87.9],"nice":false,"zero":false},"axis":null},
"y":{"field":"v","type":"quantitative","scale":{"domain":[-530,7030],"nice":false,"zero":false},"axis":{"orient":"right","values":[0,2000,4000,6000],"format":"d","title":"N₂O-N [µg m⁻² h⁻¹]","titlePadding":23}},
"color":{"field":"s","type":"nominal","scale":{"domain":["NO₂⁻\u00a0 10% biochar","NO₂⁻\u00a0 control","N₂O\u00a0 10% biochar","N₂O\u00a0 control"],"range":["#1a1a1a","#1a1a1a","#8c8c8c","#8c8c8c"]},"legend":null},
"fill":{"field":"s","type":"nominal","scale":{"domain":["NO₂⁻\u00a0 10% biochar","NO₂⁻\u00a0 control","N₂O\u00a0 10% biochar","N₂O\u00a0 control"],"range":["#1a1a1a","#ffffff","#8c8c8c","#ffffff"]},"legend":null},
"shape":{"field":"s","type":"nominal","scale":{"domain":["NO₂⁻\u00a0 10% biochar","NO₂⁻\u00a0 control","N₂O\u00a0 10% biochar","N₂O\u00a0 control"],"range":["square","square","circle","circle"]},"legend":null}}}
]},
{"layer":[
{"data":{"values":[{}]},"mark":{"type":"rect","filled":false,"color":"#3a3a3a","strokeWidth":1.2},
"encoding":{"x":{"datum":-0.5,"type":"quantitative","scale":{"domain":[-0.5,9],"range":[265,521],"nice":false,"zero":false},"axis":{"orient":"bottom","offset":-120.3,"values":[0,2,4,6,8],"title":null}},"x2":{"datum":9},
"y":{"datum":-5.5,"type":"quantitative","scale":{"domain":[-5.5,90.5],"range":[136.7,8.7],"nice":false,"zero":false},"axis":{"orient":"left","offset":-265,"values":[0,20,40,60,80],"title":null}},"y2":{"datum":90.5}}},
{"data":{"name":"b_pts"},"transform":[{"filter":"indexof(datum.s,'NO₂')>=0 && datum.t<=8"}],"mark":{"type":"line","strokeWidth":1.3},
"encoding":{"x":{"field":"t","type":"quantitative","scale":{"domain":[-0.5,9],"range":[265,521],"nice":false,"zero":false},"axis":{"orient":"bottom","offset":-120.3,"values":[0,2,4,6,8],"title":null}},
"y":{"field":"v","type":"quantitative","scale":{"domain":[-5.5,90.5],"range":[136.7,8.7],"nice":false,"zero":false},"axis":{"orient":"left","offset":-265,"values":[0,20,40,60,80],"title":null}},
"stroke":{"field":"s","type":"nominal","scale":{"domain":["N₂O\u00a0 control","N₂O\u00a0 10% biochar","NO₂⁻\u00a0 control","NO₂⁻\u00a0 10% biochar"],"range":["#8c8c8c","#8c8c8c","#1a1a1a","#1a1a1a"]},"legend":null},
"strokeDash":{"field":"s","type":"nominal","scale":{"domain":["N₂O\u00a0 control","N₂O\u00a0 10% biochar","NO₂⁻\u00a0 control","NO₂⁻\u00a0 10% biochar"],"range":[[3,2],[1,0],[2.5,2],[1,0]]},"legend":null}}},
{"data":{"name":"b_pts"},"transform":[{"filter":"indexof(datum.s,'NO₂')>=0 && datum.t<=8"}],"mark":{"type":"point","filled":false,"size":85,"strokeWidth":1.2,"opacity":1},
"encoding":{"x":{"field":"t","type":"quantitative","scale":{"domain":[-0.5,9],"range":[265,521],"nice":false,"zero":false},"axis":{"orient":"bottom","offset":-120.3,"values":[0,2,4,6,8],"title":null}},
"y":{"field":"v","type":"quantitative","scale":{"domain":[-5.5,90.5],"range":[136.7,8.7],"nice":false,"zero":false},"axis":{"orient":"left","offset":-265,"values":[0,20,40,60,80],"title":null}},
"color":{"field":"s","type":"nominal","scale":{"domain":["NO₂⁻\u00a0 10% biochar","NO₂⁻\u00a0 control","N₂O\u00a0 10% biochar","N₂O\u00a0 control"],"range":["#1a1a1a","#1a1a1a","#8c8c8c","#8c8c8c"]},"legend":null},
"fill":{"field":"s","type":"nominal","scale":{"domain":["NO₂⁻\u00a0 10% biochar","NO₂⁻\u00a0 control","N₂O\u00a0 10% biochar","N₂O\u00a0 control"],"range":["#1a1a1a","#ffffff","#8c8c8c","#ffffff"]},"legend":null},
"shape":{"field":"s","type":"nominal","scale":{"domain":["NO₂⁻\u00a0 10% biochar","NO₂⁻\u00a0 control","N₂O\u00a0 10% biochar","N₂O\u00a0 control"],"range":["square","square","circle","circle"]},"legend":null}}},
{"data":{"name":"b_ilab"},"mark":{"type":"text","fontSize":8,"color":"#777"},
"encoding":{"x":{"field":"t","type":"quantitative","scale":{"domain":[-0.5,9],"range":[265,521],"nice":false,"zero":false},"axis":{"orient":"bottom","offset":-120.3,"values":[0,2,4,6,8],"title":null}},
"y":{"field":"v","type":"quantitative","scale":{"domain":[-5.5,90.5],"range":[136.7,8.7],"nice":false,"zero":false},"axis":{"orient":"left","offset":-265,"values":[0,20,40,60,80],"title":null}},"text":{"field":"lab"}}}
]},
{"layer":[
{"data":{"name":"b_pts"},"transform":[{"filter":"indexof(datum.s,'N₂O')>=0 && datum.t<=8"}],"mark":{"type":"line","strokeWidth":1.3},
"encoding":{"x":{"field":"t","type":"quantitative","scale":{"domain":[-0.5,9],"range":[265,521],"nice":false,"zero":false},"axis":null},
"y":{"field":"v","type":"quantitative","scale":{"domain":[-449,7008],"range":[136.7,8.7],"nice":false,"zero":false},"axis":{"orient":"right","offset":-97,"values":[0,2000,4000,6000],"format":"d","title":null}},
"stroke":{"field":"s","type":"nominal","scale":{"domain":["N₂O\u00a0 control","N₂O\u00a0 10% biochar","NO₂⁻\u00a0 control","NO₂⁻\u00a0 10% biochar"],"range":["#8c8c8c","#8c8c8c","#1a1a1a","#1a1a1a"]},"legend":null},
"strokeDash":{"field":"s","type":"nominal","scale":{"domain":["N₂O\u00a0 control","N₂O\u00a0 10% biochar","NO₂⁻\u00a0 control","NO₂⁻\u00a0 10% biochar"],"range":[[3,2],[1,0],[2.5,2],[1,0]]},"legend":null}}},
{"data":{"name":"b_err"},"transform":[{"filter":"indexof(datum.s,'N₂O')>=0 && datum.t<=8"}],"mark":{"type":"rule","strokeWidth":1},
"encoding":{"x":{"field":"t","type":"quantitative","scale":{"domain":[-0.5,9],"range":[265,521],"nice":false,"zero":false},"axis":null},
"y":{"field":"lo","type":"quantitative","scale":{"domain":[-449,7008],"range":[136.7,8.7],"nice":false,"zero":false},"axis":{"orient":"right","offset":-97,"values":[0,2000,4000,6000],"format":"d","title":null}},"y2":{"field":"hi"},
"stroke":{"field":"s","type":"nominal","scale":{"domain":["N₂O\u00a0 control","N₂O\u00a0 10% biochar","NO₂⁻\u00a0 control","NO₂⁻\u00a0 10% biochar"],"range":["#8c8c8c","#8c8c8c","#1a1a1a","#1a1a1a"]},"legend":null}}},
{"data":{"name":"b_err"},"transform":[{"filter":"indexof(datum.s,'N₂O')>=0 && datum.t<=8"}],"mark":{"type":"point","shape":"stroke","size":36,"strokeWidth":1,"opacity":1},
"encoding":{"x":{"field":"t","type":"quantitative","scale":{"domain":[-0.5,9],"range":[265,521],"nice":false,"zero":false},"axis":null},
"y":{"field":"hi","type":"quantitative","scale":{"domain":[-449,7008],"range":[136.7,8.7],"nice":false,"zero":false},"axis":{"orient":"right","offset":-97,"values":[0,2000,4000,6000],"format":"d","title":null}},
"stroke":{"field":"s","type":"nominal","scale":{"domain":["N₂O\u00a0 control","N₂O\u00a0 10% biochar","NO₂⁻\u00a0 control","NO₂⁻\u00a0 10% biochar"],"range":["#8c8c8c","#8c8c8c","#1a1a1a","#1a1a1a"]},"legend":null}}},
{"data":{"name":"b_err"},"transform":[{"filter":"indexof(datum.s,'N₂O')>=0 && datum.t<=8"}],"mark":{"type":"point","shape":"stroke","size":36,"strokeWidth":1,"opacity":1},
"encoding":{"x":{"field":"t","type":"quantitative","scale":{"domain":[-0.5,9],"range":[265,521],"nice":false,"zero":false},"axis":null},
"y":{"field":"lo","type":"quantitative","scale":{"domain":[-449,7008],"range":[136.7,8.7],"nice":false,"zero":false},"axis":{"orient":"right","offset":-97,"values":[0,2000,4000,6000],"format":"d","title":null}},
"stroke":{"field":"s","type":"nominal","scale":{"domain":["N₂O\u00a0 control","N₂O\u00a0 10% biochar","NO₂⁻\u00a0 control","NO₂⁻\u00a0 10% biochar"],"range":["#8c8c8c","#8c8c8c","#1a1a1a","#1a1a1a"]},"legend":null}}},
{"data":{"name":"b_pts"},"transform":[{"filter":"indexof(datum.s,'N₂O')>=0 && datum.t<=8"}],"mark":{"type":"point","filled":false,"size":85,"strokeWidth":1.2,"opacity":1},
"encoding":{"x":{"field":"t","type":"quantitative","scale":{"domain":[-0.5,9],"range":[265,521],"nice":false,"zero":false},"axis":null},
"y":{"field":"v","type":"quantitative","scale":{"domain":[-449,7008],"range":[136.7,8.7],"nice":false,"zero":false},"axis":{"orient":"right","offset":-97,"values":[0,2000,4000,6000],"format":"d","title":null}},
"color":{"field":"s","type":"nominal","scale":{"domain":["NO₂⁻\u00a0 10% biochar","NO₂⁻\u00a0 control","N₂O\u00a0 10% biochar","N₂O\u00a0 control"],"range":["#1a1a1a","#1a1a1a","#8c8c8c","#8c8c8c"]},"legend":null},
"fill":{"field":"s","type":"nominal","scale":{"domain":["NO₂⁻\u00a0 10% biochar","NO₂⁻\u00a0 control","N₂O\u00a0 10% biochar","N₂O\u00a0 control"],"range":["#1a1a1a","#ffffff","#8c8c8c","#ffffff"]},"legend":null},
"shape":{"field":"s","type":"nominal","scale":{"domain":["NO₂⁻\u00a0 10% biochar","NO₂⁻\u00a0 control","N₂O\u00a0 10% biochar","N₂O\u00a0 control"],"range":["square","square","circle","circle"]},"legend":null}}}
]}
]},
{"width":618,"height":257,"resolve":{"scale":{"x":"independent","y":"independent"}},
"layer":[
{"layer":[
{"data":{"name":"c_pts"},"transform":[{"filter":"indexof(datum.s,'DOC')>=0"}],"mark":{"type":"line","strokeWidth":1.3},
"encoding":{"x":{"field":"t","type":"quantitative","scale":{"domain":[-3.1,87.9],"nice":false,"zero":false},"axis":{"orient":"bottom","values":[0,10,20,30,40,50,60,70,80],"title":"time [d]","titlePadding":5}},
"y":{"field":"v","type":"quantitative","scale":{"domain":[-52,700],"nice":false,"zero":false},"axis":{"orient":"left","values":[0,200,400,600],"title":"DOC [mg kg⁻¹ dry soil]","titlePadding":19}},
"stroke":{"field":"s","type":"nominal","scale":{"domain":["DOC\u00a0 control","DOC\u00a0 10% biochar","CO₂\u00a0 control","CO₂\u00a0 10% biochar"],"range":["#8c8c8c","#8c8c8c","#1a1a1a","#1a1a1a"]},"legend":{"orient":"none","legendX":53.7,"legendY":6.8,"title":null,"values":["DOC\u00a0 control","DOC\u00a0 10% biochar","CO₂\u00a0 control","CO₂\u00a0 10% biochar"],"symbolType":"stroke","symbolSize":1024,"symbolStrokeWidth":1.3,"labelFontSize":13,"labelColor":"#222","labelOffset":2,"rowPadding":3,"padding":0,"clipHeight":13}},
"strokeDash":{"field":"s","type":"nominal","scale":{"domain":["DOC\u00a0 control","DOC\u00a0 10% biochar","CO₂\u00a0 control","CO₂\u00a0 10% biochar"],"range":[[3,2],[1,0],[2.5,2],[1,0]]},"legend":{"orient":"none","legendX":53.7,"legendY":6.8,"title":null,"values":["DOC\u00a0 control","DOC\u00a0 10% biochar","CO₂\u00a0 control","CO₂\u00a0 10% biochar"],"symbolType":"stroke","symbolSize":1024,"symbolStrokeWidth":1.3,"labelFontSize":13,"labelColor":"#222","labelOffset":2,"rowPadding":3,"padding":0,"clipHeight":13}}}},
{"data":{"name":"c_err"},"transform":[{"filter":"indexof(datum.s,'DOC')>=0"}],"mark":{"type":"rule","strokeWidth":1},
"encoding":{"x":{"field":"t","type":"quantitative","scale":{"domain":[-3.1,87.9],"nice":false,"zero":false},"axis":{"orient":"bottom","values":[0,10,20,30,40,50,60,70,80],"title":"time [d]","titlePadding":5}},
"y":{"field":"lo","type":"quantitative","scale":{"domain":[-52,700],"nice":false,"zero":false},"axis":{"orient":"left","values":[0,200,400,600],"title":"DOC [mg kg⁻¹ dry soil]","titlePadding":19}},"y2":{"field":"hi"},
"stroke":{"field":"s","type":"nominal","scale":{"domain":["DOC\u00a0 control","DOC\u00a0 10% biochar","CO₂\u00a0 control","CO₂\u00a0 10% biochar"],"range":["#8c8c8c","#8c8c8c","#1a1a1a","#1a1a1a"]},"legend":null}}},
{"data":{"name":"c_err"},"transform":[{"filter":"indexof(datum.s,'DOC')>=0"}],"mark":{"type":"point","shape":"stroke","size":36,"strokeWidth":1,"opacity":1},
"encoding":{"x":{"field":"t","type":"quantitative","scale":{"domain":[-3.1,87.9],"nice":false,"zero":false},"axis":{"orient":"bottom","values":[0,10,20,30,40,50,60,70,80],"title":"time [d]","titlePadding":5}},
"y":{"field":"hi","type":"quantitative","scale":{"domain":[-52,700],"nice":false,"zero":false},"axis":{"orient":"left","values":[0,200,400,600],"title":"DOC [mg kg⁻¹ dry soil]","titlePadding":19}},
"stroke":{"field":"s","type":"nominal","scale":{"domain":["DOC\u00a0 control","DOC\u00a0 10% biochar","CO₂\u00a0 control","CO₂\u00a0 10% biochar"],"range":["#8c8c8c","#8c8c8c","#1a1a1a","#1a1a1a"]},"legend":null}}},
{"data":{"name":"c_err"},"transform":[{"filter":"indexof(datum.s,'DOC')>=0"}],"mark":{"type":"point","shape":"stroke","size":36,"strokeWidth":1,"opacity":1},
"encoding":{"x":{"field":"t","type":"quantitative","scale":{"domain":[-3.1,87.9],"nice":false,"zero":false},"axis":{"orient":"bottom","values":[0,10,20,30,40,50,60,70,80],"title":"time [d]","titlePadding":5}},
"y":{"field":"lo","type":"quantitative","scale":{"domain":[-52,700],"nice":false,"zero":false},"axis":{"orient":"left","values":[0,200,400,600],"title":"DOC [mg kg⁻¹ dry soil]","titlePadding":19}},
"stroke":{"field":"s","type":"nominal","scale":{"domain":["DOC\u00a0 control","DOC\u00a0 10% biochar","CO₂\u00a0 control","CO₂\u00a0 10% biochar"],"range":["#8c8c8c","#8c8c8c","#1a1a1a","#1a1a1a"]},"legend":null}}},
{"data":{"name":"c_pts"},"transform":[{"filter":"indexof(datum.s,'DOC')>=0"}],"mark":{"type":"point","filled":false,"size":90,"strokeWidth":1.2,"opacity":1},
"encoding":{"x":{"field":"t","type":"quantitative","scale":{"domain":[-3.1,87.9],"nice":false,"zero":false},"axis":{"orient":"bottom","values":[0,10,20,30,40,50,60,70,80],"title":"time [d]","titlePadding":5}},
"y":{"field":"v","type":"quantitative","scale":{"domain":[-52,700],"nice":false,"zero":false},"axis":{"orient":"left","values":[0,200,400,600],"title":"DOC [mg kg⁻¹ dry soil]","titlePadding":19}},
"color":{"field":"s","type":"nominal","scale":{"domain":["CO₂\u00a0 10% biochar","CO₂\u00a0 control","DOC\u00a0 10% biochar","DOC\u00a0 control"],"range":["#1a1a1a","#1a1a1a","#8c8c8c","#8c8c8c"]},"legend":{"orient":"none","legendX":65.2,"legendY":6.8,"title":null,"values":["DOC\u00a0 control","DOC\u00a0 10% biochar","CO₂\u00a0 control","CO₂\u00a0 10% biochar"],"symbolSize":90,"symbolStrokeWidth":1.2,"labelFontSize":13,"labelExpr":"''","labelOffset":2,"rowPadding":3,"padding":0,"clipHeight":13}},
"fill":{"field":"s","type":"nominal","scale":{"domain":["CO₂\u00a0 10% biochar","CO₂\u00a0 control","DOC\u00a0 10% biochar","DOC\u00a0 control"],"range":["#1a1a1a","#ffffff","#8c8c8c","#ffffff"]},"legend":{"orient":"none","legendX":65.2,"legendY":6.8,"title":null,"values":["DOC\u00a0 control","DOC\u00a0 10% biochar","CO₂\u00a0 control","CO₂\u00a0 10% biochar"],"symbolSize":90,"symbolStrokeWidth":1.2,"labelFontSize":13,"labelExpr":"''","labelOffset":2,"rowPadding":3,"padding":0,"clipHeight":13}},
"shape":{"field":"s","type":"nominal","scale":{"domain":["CO₂\u00a0 10% biochar","CO₂\u00a0 control","DOC\u00a0 10% biochar","DOC\u00a0 control"],"range":["square","square","circle","circle"]},"legend":{"orient":"none","legendX":65.2,"legendY":6.8,"title":null,"values":["DOC\u00a0 control","DOC\u00a0 10% biochar","CO₂\u00a0 control","CO₂\u00a0 10% biochar"],"symbolSize":90,"symbolStrokeWidth":1.2,"labelFontSize":13,"labelExpr":"''","labelOffset":2,"rowPadding":3,"padding":0,"clipHeight":13}}}},
{"data":{"name":"c_lab"},"mark":{"type":"text","fontSize":8,"color":"#777"},
"encoding":{"x":{"field":"t","type":"quantitative","scale":{"domain":[-3.1,87.9],"nice":false,"zero":false},"axis":{"orient":"bottom","values":[0,10,20,30,40,50,60,70,80],"title":"time [d]","titlePadding":5}},
"y":{"field":"v","type":"quantitative","scale":{"domain":[-52,700],"nice":false,"zero":false},"axis":{"orient":"left","values":[0,200,400,600],"title":"DOC [mg kg⁻¹ dry soil]","titlePadding":19}},"text":{"field":"lab"}}},
{"data":{"values":[{}]},"mark":{"type":"text","fontSize":16,"fontWeight":"bold","color":"#111","align":"left","baseline":"alphabetic"},
"encoding":{"x":{"datum":-11.5,"type":"quantitative","scale":{"domain":[-3.1,87.9],"nice":false,"zero":false},"axis":{"orient":"bottom","values":[0,10,20,30,40,50,60,70,80],"title":"time [d]","titlePadding":5}},
"y":{"datum":669,"type":"quantitative","scale":{"domain":[-52,700],"nice":false,"zero":false},"axis":{"orient":"left","values":[0,200,400,600],"title":"DOC [mg kg⁻¹ dry soil]","titlePadding":19}},"text":{"value":"c"}}}
]},
{"layer":[
{"data":{"name":"c_pts"},"transform":[{"filter":"indexof(datum.s,'CO₂')>=0"}],"mark":{"type":"line","strokeWidth":1.3},
"encoding":{"x":{"field":"t","type":"quantitative","scale":{"domain":[-3.1,87.9],"nice":false,"zero":false},"axis":null},
"y":{"field":"v","type":"quantitative","scale":{"domain":[-5.4,90.3],"nice":false,"zero":false},"axis":{"orient":"right","values":[0,20,40,60,80],"title":"CO₂-C [mg m⁻² h⁻¹]","titlePadding":37}},
"stroke":{"field":"s","type":"nominal","scale":{"domain":["DOC\u00a0 control","DOC\u00a0 10% biochar","CO₂\u00a0 control","CO₂\u00a0 10% biochar"],"range":["#8c8c8c","#8c8c8c","#1a1a1a","#1a1a1a"]},"legend":null},
"strokeDash":{"field":"s","type":"nominal","scale":{"domain":["DOC\u00a0 control","DOC\u00a0 10% biochar","CO₂\u00a0 control","CO₂\u00a0 10% biochar"],"range":[[3,2],[1,0],[2.5,2],[1,0]]},"legend":null}}},
{"data":{"name":"c_err"},"transform":[{"filter":"indexof(datum.s,'CO₂')>=0"}],"mark":{"type":"rule","strokeWidth":1},
"encoding":{"x":{"field":"t","type":"quantitative","scale":{"domain":[-3.1,87.9],"nice":false,"zero":false},"axis":null},
"y":{"field":"lo","type":"quantitative","scale":{"domain":[-5.4,90.3],"nice":false,"zero":false},"axis":{"orient":"right","values":[0,20,40,60,80],"title":"CO₂-C [mg m⁻² h⁻¹]","titlePadding":37}},"y2":{"field":"hi"},
"stroke":{"field":"s","type":"nominal","scale":{"domain":["DOC\u00a0 control","DOC\u00a0 10% biochar","CO₂\u00a0 control","CO₂\u00a0 10% biochar"],"range":["#8c8c8c","#8c8c8c","#1a1a1a","#1a1a1a"]},"legend":null}}},
{"data":{"name":"c_err"},"transform":[{"filter":"indexof(datum.s,'CO₂')>=0"}],"mark":{"type":"point","shape":"stroke","size":36,"strokeWidth":1,"opacity":1},
"encoding":{"x":{"field":"t","type":"quantitative","scale":{"domain":[-3.1,87.9],"nice":false,"zero":false},"axis":null},
"y":{"field":"hi","type":"quantitative","scale":{"domain":[-5.4,90.3],"nice":false,"zero":false},"axis":{"orient":"right","values":[0,20,40,60,80],"title":"CO₂-C [mg m⁻² h⁻¹]","titlePadding":37}},
"stroke":{"field":"s","type":"nominal","scale":{"domain":["DOC\u00a0 control","DOC\u00a0 10% biochar","CO₂\u00a0 control","CO₂\u00a0 10% biochar"],"range":["#8c8c8c","#8c8c8c","#1a1a1a","#1a1a1a"]},"legend":null}}},
{"data":{"name":"c_err"},"transform":[{"filter":"indexof(datum.s,'CO₂')>=0"}],"mark":{"type":"point","shape":"stroke","size":36,"strokeWidth":1,"opacity":1},
"encoding":{"x":{"field":"t","type":"quantitative","scale":{"domain":[-3.1,87.9],"nice":false,"zero":false},"axis":null},
"y":{"field":"lo","type":"quantitative","scale":{"domain":[-5.4,90.3],"nice":false,"zero":false},"axis":{"orient":"right","values":[0,20,40,60,80],"title":"CO₂-C [mg m⁻² h⁻¹]","titlePadding":37}},
"stroke":{"field":"s","type":"nominal","scale":{"domain":["DOC\u00a0 control","DOC\u00a0 10% biochar","CO₂\u00a0 control","CO₂\u00a0 10% biochar"],"range":["#8c8c8c","#8c8c8c","#1a1a1a","#1a1a1a"]},"legend":null}}},
{"data":{"name":"c_pts"},"transform":[{"filter":"indexof(datum.s,'CO₂')>=0"}],"mark":{"type":"point","filled":false,"size":90,"strokeWidth":1.2,"opacity":1},
"encoding":{"x":{"field":"t","type":"quantitative","scale":{"domain":[-3.1,87.9],"nice":false,"zero":false},"axis":null},
"y":{"field":"v","type":"quantitative","scale":{"domain":[-5.4,90.3],"nice":false,"zero":false},"axis":{"orient":"right","values":[0,20,40,60,80],"title":"CO₂-C [mg m⁻² h⁻¹]","titlePadding":37}},
"color":{"field":"s","type":"nominal","scale":{"domain":["CO₂\u00a0 10% biochar","CO₂\u00a0 control","DOC\u00a0 10% biochar","DOC\u00a0 control"],"range":["#1a1a1a","#1a1a1a","#8c8c8c","#8c8c8c"]},"legend":null},
"fill":{"field":"s","type":"nominal","scale":{"domain":["CO₂\u00a0 10% biochar","CO₂\u00a0 control","DOC\u00a0 10% biochar","DOC\u00a0 control"],"range":["#1a1a1a","#ffffff","#8c8c8c","#ffffff"]},"legend":null},
"shape":{"field":"s","type":"nominal","scale":{"domain":["CO₂\u00a0 10% biochar","CO₂\u00a0 control","DOC\u00a0 10% biochar","DOC\u00a0 control"],"range":["square","square","circle","circle"]},"legend":null}}}
]},
{"layer":[
{"data":{"values":[{}]},"mark":{"type":"rect","filled":false,"color":"#3a3a3a","strokeWidth":1.2},
"encoding":{"x":{"datum":-0.5,"type":"quantitative","scale":{"domain":[-0.5,9],"range":[265,521],"nice":false,"zero":false},"axis":{"orient":"bottom","offset":-119.7,"values":[0,2,4,6,8],"title":null}},"x2":{"datum":9},
"y":{"datum":-75.5,"type":"quantitative","scale":{"domain":[-75.5,656.8],"range":[137.3,8.3],"nice":false,"zero":false},"axis":{"orient":"left","offset":-265,"values":[0,200,400,600],"title":null}},"y2":{"datum":656.8}}},
{"data":{"name":"c_pts"},"transform":[{"filter":"indexof(datum.s,'DOC')>=0 && datum.t<=8"}],"mark":{"type":"line","strokeWidth":1.3},
"encoding":{"x":{"field":"t","type":"quantitative","scale":{"domain":[-0.5,9],"range":[265,521],"nice":false,"zero":false},"axis":{"orient":"bottom","offset":-119.7,"values":[0,2,4,6,8],"title":null}},
"y":{"field":"v","type":"quantitative","scale":{"domain":[-75.5,656.8],"range":[137.3,8.3],"nice":false,"zero":false},"axis":{"orient":"left","offset":-265,"values":[0,200,400,600],"title":null}},
"stroke":{"field":"s","type":"nominal","scale":{"domain":["DOC\u00a0 control","DOC\u00a0 10% biochar","CO₂\u00a0 control","CO₂\u00a0 10% biochar"],"range":["#8c8c8c","#8c8c8c","#1a1a1a","#1a1a1a"]},"legend":null},
"strokeDash":{"field":"s","type":"nominal","scale":{"domain":["DOC\u00a0 control","DOC\u00a0 10% biochar","CO₂\u00a0 control","CO₂\u00a0 10% biochar"],"range":[[3,2],[1,0],[2.5,2],[1,0]]},"legend":null}}},
{"data":{"name":"c_err"},"transform":[{"filter":"indexof(datum.s,'DOC')>=0 && datum.t<=8"}],"mark":{"type":"rule","strokeWidth":1},
"encoding":{"x":{"field":"t","type":"quantitative","scale":{"domain":[-0.5,9],"range":[265,521],"nice":false,"zero":false},"axis":{"orient":"bottom","offset":-119.7,"values":[0,2,4,6,8],"title":null}},
"y":{"field":"lo","type":"quantitative","scale":{"domain":[-75.5,656.8],"range":[137.3,8.3],"nice":false,"zero":false},"axis":{"orient":"left","offset":-265,"values":[0,200,400,600],"title":null}},"y2":{"field":"hi"},
"stroke":{"field":"s","type":"nominal","scale":{"domain":["DOC\u00a0 control","DOC\u00a0 10% biochar","CO₂\u00a0 control","CO₂\u00a0 10% biochar"],"range":["#8c8c8c","#8c8c8c","#1a1a1a","#1a1a1a"]},"legend":null}}},
{"data":{"name":"c_err"},"transform":[{"filter":"indexof(datum.s,'DOC')>=0 && datum.t<=8"}],"mark":{"type":"point","shape":"stroke","size":36,"strokeWidth":1,"opacity":1},
"encoding":{"x":{"field":"t","type":"quantitative","scale":{"domain":[-0.5,9],"range":[265,521],"nice":false,"zero":false},"axis":{"orient":"bottom","offset":-119.7,"values":[0,2,4,6,8],"title":null}},
"y":{"field":"hi","type":"quantitative","scale":{"domain":[-75.5,656.8],"range":[137.3,8.3],"nice":false,"zero":false},"axis":{"orient":"left","offset":-265,"values":[0,200,400,600],"title":null}},
"stroke":{"field":"s","type":"nominal","scale":{"domain":["DOC\u00a0 control","DOC\u00a0 10% biochar","CO₂\u00a0 control","CO₂\u00a0 10% biochar"],"range":["#8c8c8c","#8c8c8c","#1a1a1a","#1a1a1a"]},"legend":null}}},
{"data":{"name":"c_err"},"transform":[{"filter":"indexof(datum.s,'DOC')>=0 && datum.t<=8"}],"mark":{"type":"point","shape":"stroke","size":36,"strokeWidth":1,"opacity":1},
"encoding":{"x":{"field":"t","type":"quantitative","scale":{"domain":[-0.5,9],"range":[265,521],"nice":false,"zero":false},"axis":{"orient":"bottom","offset":-119.7,"values":[0,2,4,6,8],"title":null}},
"y":{"field":"lo","type":"quantitative","scale":{"domain":[-75.5,656.8],"range":[137.3,8.3],"nice":false,"zero":false},"axis":{"orient":"left","offset":-265,"values":[0,200,400,600],"title":null}},
"stroke":{"field":"s","type":"nominal","scale":{"domain":["DOC\u00a0 control","DOC\u00a0 10% biochar","CO₂\u00a0 control","CO₂\u00a0 10% biochar"],"range":["#8c8c8c","#8c8c8c","#1a1a1a","#1a1a1a"]},"legend":null}}},
{"data":{"name":"c_pts"},"transform":[{"filter":"indexof(datum.s,'DOC')>=0 && datum.t<=8"}],"mark":{"type":"point","filled":false,"size":85,"strokeWidth":1.2,"opacity":1},
"encoding":{"x":{"field":"t","type":"quantitative","scale":{"domain":[-0.5,9],"range":[265,521],"nice":false,"zero":false},"axis":{"orient":"bottom","offset":-119.7,"values":[0,2,4,6,8],"title":null}},
"y":{"field":"v","type":"quantitative","scale":{"domain":[-75.5,656.8],"range":[137.3,8.3],"nice":false,"zero":false},"axis":{"orient":"left","offset":-265,"values":[0,200,400,600],"title":null}},
"color":{"field":"s","type":"nominal","scale":{"domain":["CO₂\u00a0 10% biochar","CO₂\u00a0 control","DOC\u00a0 10% biochar","DOC\u00a0 control"],"range":["#1a1a1a","#1a1a1a","#8c8c8c","#8c8c8c"]},"legend":null},
"fill":{"field":"s","type":"nominal","scale":{"domain":["CO₂\u00a0 10% biochar","CO₂\u00a0 control","DOC\u00a0 10% biochar","DOC\u00a0 control"],"range":["#1a1a1a","#ffffff","#8c8c8c","#ffffff"]},"legend":null},
"shape":{"field":"s","type":"nominal","scale":{"domain":["CO₂\u00a0 10% biochar","CO₂\u00a0 control","DOC\u00a0 10% biochar","DOC\u00a0 control"],"range":["square","square","circle","circle"]},"legend":null}}},
{"data":{"name":"c_ilab"},"mark":{"type":"text","fontSize":8,"color":"#777"},
"encoding":{"x":{"field":"t","type":"quantitative","scale":{"domain":[-0.5,9],"range":[265,521],"nice":false,"zero":false},"axis":{"orient":"bottom","offset":-119.7,"values":[0,2,4,6,8],"title":null}},
"y":{"field":"v","type":"quantitative","scale":{"domain":[-75.5,656.8],"range":[137.3,8.3],"nice":false,"zero":false},"axis":{"orient":"left","offset":-265,"values":[0,200,400,600],"title":null}},"text":{"field":"lab"}}}
]},
{"layer":[
{"data":{"name":"c_pts"},"transform":[{"filter":"indexof(datum.s,'CO₂')>=0 && datum.t<=8"}],"mark":{"type":"line","strokeWidth":1.3},
"encoding":{"x":{"field":"t","type":"quantitative","scale":{"domain":[-0.5,9],"range":[265,521],"nice":false,"zero":false},"axis":null},
"y":{"field":"v","type":"quantitative","scale":{"domain":[-10.2,91],"range":[137.3,8.3],"nice":false,"zero":false},"axis":{"orient":"right","offset":-97,"values":[0,20,40,60,80],"title":null}},
"stroke":{"field":"s","type":"nominal","scale":{"domain":["DOC\u00a0 control","DOC\u00a0 10% biochar","CO₂\u00a0 control","CO₂\u00a0 10% biochar"],"range":["#8c8c8c","#8c8c8c","#1a1a1a","#1a1a1a"]},"legend":null},
"strokeDash":{"field":"s","type":"nominal","scale":{"domain":["DOC\u00a0 control","DOC\u00a0 10% biochar","CO₂\u00a0 control","CO₂\u00a0 10% biochar"],"range":[[3,2],[1,0],[2.5,2],[1,0]]},"legend":null}}},
{"data":{"name":"c_err"},"transform":[{"filter":"indexof(datum.s,'CO₂')>=0 && datum.t<=8"}],"mark":{"type":"rule","strokeWidth":1},
"encoding":{"x":{"field":"t","type":"quantitative","scale":{"domain":[-0.5,9],"range":[265,521],"nice":false,"zero":false},"axis":null},
"y":{"field":"lo","type":"quantitative","scale":{"domain":[-10.2,91],"range":[137.3,8.3],"nice":false,"zero":false},"axis":{"orient":"right","offset":-97,"values":[0,20,40,60,80],"title":null}},"y2":{"field":"hi"},
"stroke":{"field":"s","type":"nominal","scale":{"domain":["DOC\u00a0 control","DOC\u00a0 10% biochar","CO₂\u00a0 control","CO₂\u00a0 10% biochar"],"range":["#8c8c8c","#8c8c8c","#1a1a1a","#1a1a1a"]},"legend":null}}},
{"data":{"name":"c_err"},"transform":[{"filter":"indexof(datum.s,'CO₂')>=0 && datum.t<=8"}],"mark":{"type":"point","shape":"stroke","size":36,"strokeWidth":1,"opacity":1},
"encoding":{"x":{"field":"t","type":"quantitative","scale":{"domain":[-0.5,9],"range":[265,521],"nice":false,"zero":false},"axis":null},
"y":{"field":"hi","type":"quantitative","scale":{"domain":[-10.2,91],"range":[137.3,8.3],"nice":false,"zero":false},"axis":{"orient":"right","offset":-97,"values":[0,20,40,60,80],"title":null}},
"stroke":{"field":"s","type":"nominal","scale":{"domain":["DOC\u00a0 control","DOC\u00a0 10% biochar","CO₂\u00a0 control","CO₂\u00a0 10% biochar"],"range":["#8c8c8c","#8c8c8c","#1a1a1a","#1a1a1a"]},"legend":null}}},
{"data":{"name":"c_err"},"transform":[{"filter":"indexof(datum.s,'CO₂')>=0 && datum.t<=8"}],"mark":{"type":"point","shape":"stroke","size":36,"strokeWidth":1,"opacity":1},
"encoding":{"x":{"field":"t","type":"quantitative","scale":{"domain":[-0.5,9],"range":[265,521],"nice":false,"zero":false},"axis":null},
"y":{"field":"lo","type":"quantitative","scale":{"domain":[-10.2,91],"range":[137.3,8.3],"nice":false,"zero":false},"axis":{"orient":"right","offset":-97,"values":[0,20,40,60,80],"title":null}},
"stroke":{"field":"s","type":"nominal","scale":{"domain":["DOC\u00a0 control","DOC\u00a0 10% biochar","CO₂\u00a0 control","CO₂\u00a0 10% biochar"],"range":["#8c8c8c","#8c8c8c","#1a1a1a","#1a1a1a"]},"legend":null}}},
{"data":{"name":"c_pts"},"transform":[{"filter":"indexof(datum.s,'CO₂')>=0 && datum.t<=8"}],"mark":{"type":"point","filled":false,"size":85,"strokeWidth":1.2,"opacity":1},
"encoding":{"x":{"field":"t","type":"quantitative","scale":{"domain":[-0.5,9],"range":[265,521],"nice":false,"zero":false},"axis":null},
"y":{"field":"v","type":"quantitative","scale":{"domain":[-10.2,91],"range":[137.3,8.3],"nice":false,"zero":false},"axis":{"orient":"right","offset":-97,"values":[0,20,40,60,80],"title":null}},
"color":{"field":"s","type":"nominal","scale":{"domain":["CO₂\u00a0 10% biochar","CO₂\u00a0 control","DOC\u00a0 10% biochar","DOC\u00a0 control"],"range":["#1a1a1a","#1a1a1a","#8c8c8c","#8c8c8c"]},"legend":null},
"fill":{"field":"s","type":"nominal","scale":{"domain":["CO₂\u00a0 10% biochar","CO₂\u00a0 control","DOC\u00a0 10% biochar","DOC\u00a0 control"],"range":["#1a1a1a","#ffffff","#8c8c8c","#ffffff"]},"legend":null},
"shape":{"field":"s","type":"nominal","scale":{"domain":["CO₂\u00a0 10% biochar","CO₂\u00a0 control","DOC\u00a0 10% biochar","DOC\u00a0 control"],"range":["square","square","circle","circle"]},"legend":null}}}
]}
]}
]
}
